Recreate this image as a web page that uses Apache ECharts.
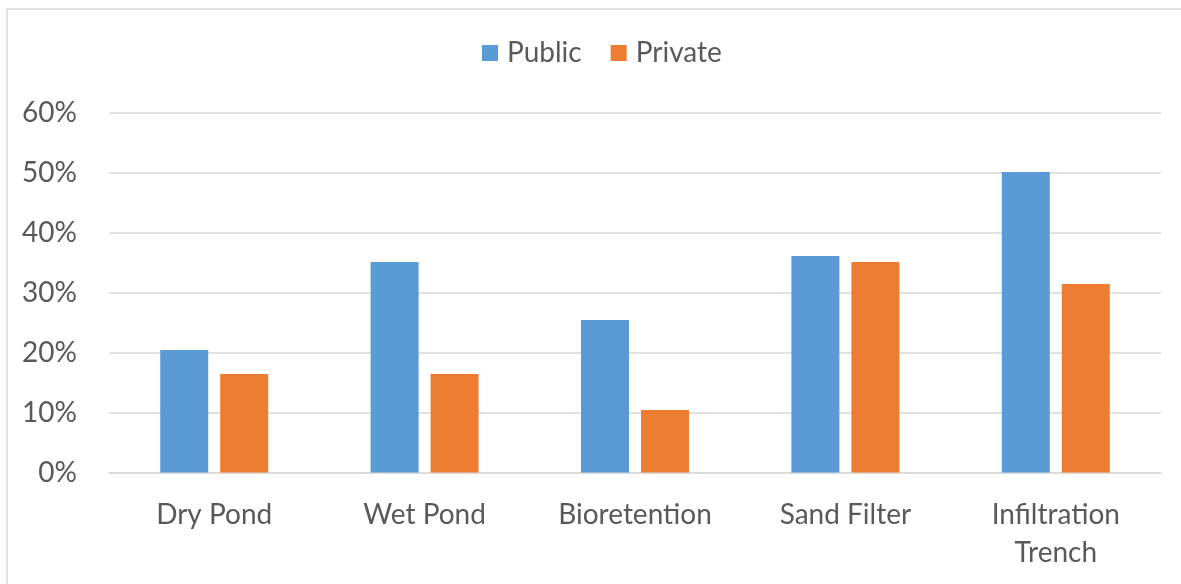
<!DOCTYPE html>
<html>
<head>
<meta charset="utf-8">
<script src="https://cdn.jsdelivr.net/npm/echarts@6/dist/echarts.min.js"></script>
<style>
  html, body { margin: 0; padding: 0; background: #fff; }
  #chart { width: 1181px; height: 584px; }
</style>
</head>
<body>
<div id="chart"></div>
<script>
// BMP types and share of facilities (%) by ownership
const categories = ['Dry Pond', 'Wet Pond', 'Bioretention', 'Sand Filter', 'Infiltration\nTrench'];
const publicValues = [20.4, 35.1, 25.4, 36.1, 50.1];
const privateValues = [16.4, 16.4, 10.4, 35.1, 31.4];
const yTicks = { min: 0, max: 60, interval: 10 };

const textColor = '#595959';
const fontFamily = 'Lato, "Open Sans", sans-serif';
const fontSize = 28;

const chart = echarts.init(document.getElementById('chart'));
chart.setOption({
  animation: false,
  textStyle: { fontFamily: fontFamily },
  graphic: [{
    type: 'rect',
    shape: { x: 7, y: 9, width: 1200, height: 600 },
    style: { fill: 'none', stroke: '#D9D9D9', lineWidth: 1.5 },
    silent: true
  }],
  legend: {
    top: 34,
    left: 477,
    itemWidth: 16,
    itemHeight: 16,
    itemGap: 29,
    icon: 'rect',
    textStyle: { color: textColor, fontSize: fontSize, fontFamily: fontFamily, padding: [2, 0, 0, 4] },
    data: ['Public', 'Private']
  },
  grid: { left: 109, right: 20, top: 112.5, bottom: 111.5, containLabel: false },
  xAxis: {
    type: 'category',
    data: categories,
    axisLine: { show: true, lineStyle: { color: '#D9D9D9', width: 1.5 } },
    axisTick: { show: false },
    axisLabel: {
      color: textColor,
      fontSize: fontSize,
      fontFamily: fontFamily,
      margin: 23,
      lineHeight: 38,
      interval: 0
    }
  },
  yAxis: {
    type: 'value',
    min: yTicks.min,
    max: yTicks.max,
    interval: yTicks.interval,
    axisLine: { show: false },
    axisTick: { show: false },
    splitLine: { lineStyle: { color: '#D9D9D9', width: 1.5 } },
    axisLabel: {
      color: textColor,
      fontSize: fontSize,
      fontFamily: fontFamily,
      margin: 32,
      formatter: v => v + '%'
    }
  },
  series: [
    {
      name: 'Public',
      type: 'bar',
      data: publicValues,
      barWidth: 48,
      barGap: '25%',
      itemStyle: { color: '#5B9BD5' }
    },
    {
      name: 'Private',
      type: 'bar',
      data: privateValues,
      barWidth: 48,
      barGap: '25%',
      itemStyle: { color: '#ED7D31' }
    }
  ]
});
</script>
</body>
</html>
